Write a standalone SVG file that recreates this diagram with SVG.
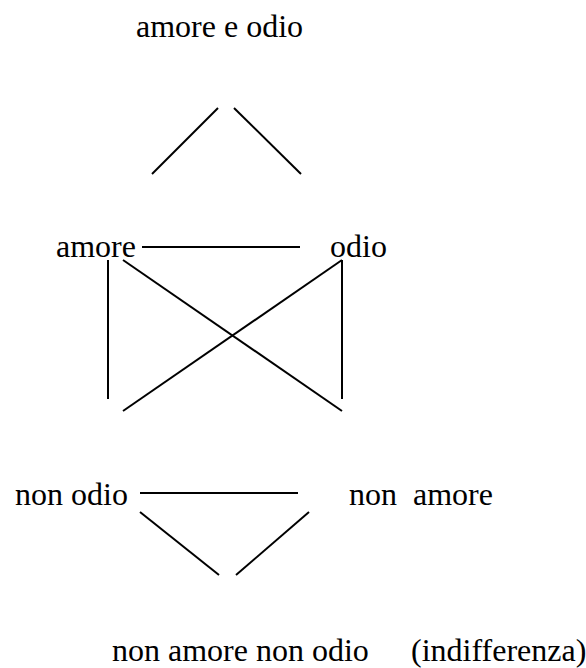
<svg xmlns="http://www.w3.org/2000/svg" width="586" height="668" viewBox="0 0 586 668">
<style>
text { font-family: "Liberation Serif", "Times New Roman", serif; font-size: 32px; fill: #000; white-space: pre; }
.c line { stroke: #000; stroke-width: 2; }
</style>
<rect width="586" height="668" fill="#fff"/>
<g id="amore-e-odio"><text x="136" y="37">amore e odio</text></g>
<g id="amore"><text x="56" y="257">amore</text></g>
<g id="odio"><text x="330" y="257">odio</text></g>
<g id="non-odio"><text x="15" y="505">non odio</text></g>
<g id="non-amore"><text x="349" y="505" xml:space="preserve">non  amore</text></g>
<g id="indifferenza"><text x="112" y="661">non amore non odio</text><text x="411" y="661">(indifferenza)</text></g>
<g class="c" id="connectors">
<line x1="152" y1="174" x2="218" y2="108"/>
<line x1="234" y1="108" x2="301" y2="174"/>
<line x1="142" y1="247" x2="300" y2="247"/>
<line x1="108" y1="260" x2="108" y2="399"/>
<line x1="342" y1="260" x2="342" y2="399"/>
<line x1="123" y1="260" x2="342" y2="411"/>
<line x1="342" y1="260" x2="123" y2="411"/>
<line x1="140" y1="493" x2="298" y2="493"/>
<line x1="140" y1="512" x2="219" y2="575"/>
<line x1="236" y1="575" x2="309" y2="512"/>
</g>
</svg>
